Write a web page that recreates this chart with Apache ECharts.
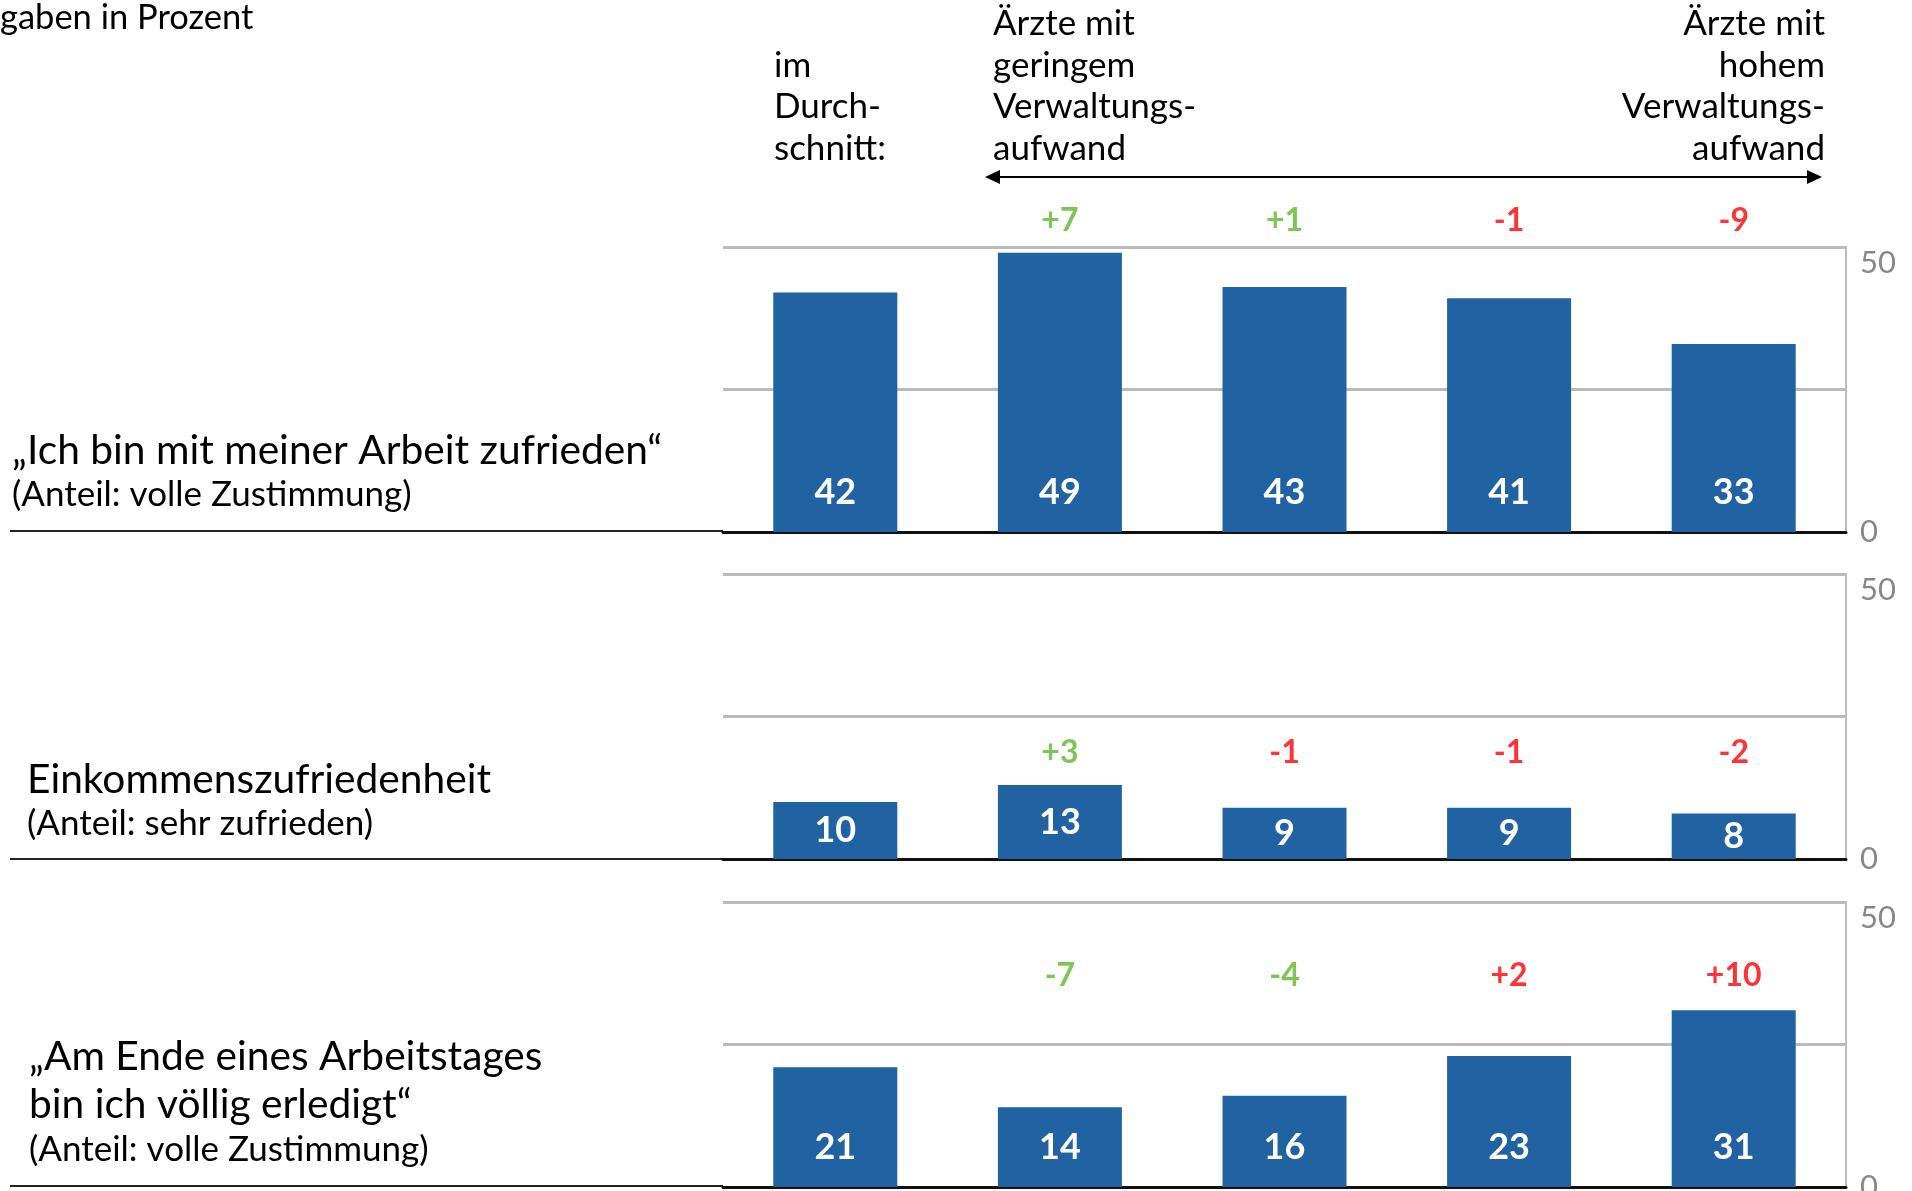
<!DOCTYPE html>
<html>
<head>
<meta charset="utf-8">
<title>Verwaltungsaufwand und Zufriedenheit</title>
<script src="https://cdn.jsdelivr.net/npm/echarts@6/dist/echarts.min.js"></script>
<style>
  html, body { margin: 0; padding: 0; background: #fff; }
  #chart { width: 1912px; height: 1191px; }
</style>
</head>
<body>
<div id="chart"></div>
<script>
// Gruppen (Spalten)
var kategorien = ['im Durchschnitt', 'geringer Aufwand', 'eher geringer Aufwand', 'eher hoher Aufwand', 'hoher Aufwand'];

// Werte je Panel
var arbeitZufrieden = [42, 49, 43, 41, 33];
var einkommen = [10, 13, 9, 9, 8];
var erledigt = [21, 14, 16, 23, 31];

// Abweichung zum Durchschnitt
var diffArbeit = [null, 7, 1, -1, -9];
var diffEinkommen = [null, 3, -1, -1, -2];
var diffErledigt = [null, -7, -4, 2, 10];

var yTicks = [0, 25, 50];

var FONT = 'Lato';
var BLUE = '#2062a2';
var GREEN = '#5cb82b';
var RED = '#ff0000';

// panel layout
var panels = [
  { werte: arbeitZufrieden, diff: diffArbeit, hoehBesser: true, top: 247, diffY: 54.7, labelPos: 'insideBottom' },
  { werte: einkommen, diff: diffEinkommen, hoehBesser: true, top: 574, diffY: 18.6, labelPos: 'inside' },
  { werte: erledigt, diff: diffErledigt, hoehBesser: false, top: 902, diffY: 37.1, labelPos: 'insideBottom' }
];
var PANEL_H = 285;

var myChart = echarts.init(document.getElementById('chart'));

var grids = [], xAxes = [], yAxes = [], series = [];
panels.forEach(function (p, i) {
  grids.push({ left: 723, right: 66, top: p.top, height: PANEL_H, outerBoundsMode: 'none' });
  xAxes.push({
    type: 'category', gridIndex: i, data: kategorien,
    axisLine: { lineStyle: { color: '#111', width: 3 } },
    axisTick: { show: false }, axisLabel: { show: false }
  });
  yAxes.push({
    type: 'value', gridIndex: i, position: 'right',
    min: yTicks[0], max: yTicks[2], interval: 25,
    axisLine: { show: true, lineStyle: { color: '#bbb', width: 2 } },
    axisTick: { show: false },
    splitLine: { lineStyle: { color: '#bbb', width: 3 } },
    axisLabel: {
      color: '#888', fontFamily: FONT, fontSize: 31, margin: 14,
      verticalAlignMaxLabel: 'top',
      formatter: function (v) { return v === 25 ? '' : String(v); }
    }
  });
  series.push({
    type: 'bar', xAxisIndex: i, yAxisIndex: i, data: p.werte,
    barWidth: 124,
    itemStyle: { color: BLUE },
    label: {
      show: true, position: p.labelPos, distance: 22,
      color: '#fff', fontFamily: FONT, fontWeight: 'bold', fontSize: 36
    },
    silent: true
  });
  series.push({
    type: 'scatter', xAxisIndex: i, yAxisIndex: i, symbolSize: 0, clip: false,
    data: p.diff.map(function (d, k) { return d === null ? null : [k, p.diffY, d]; }),
    label: {
      show: true, position: 'inside', fontFamily: FONT, fontWeight: 'bold', fontSize: 32,
      formatter: function (o) {
        var d = o.value[2];
        var gut = p.hoehBesser ? d > 0 : d < 0;
        return '{' + (gut ? 'g' : 'r') + '|' + (d > 0 ? '+' : '') + d + '}';
      },
      rich: {
        g: { color: GREEN, fontFamily: FONT, fontWeight: 'bold', fontSize: 32 },
        r: { color: RED, fontFamily: FONT, fontWeight: 'bold', fontSize: 32 }
      }
    },
    silent: true
  });
});

function txt(x, y, text, size, align) {
  return {
    type: 'text', x: x, y: y, silent: true,
    style: {
      text: text, fill: '#000', font: size + 'px ' + FONT,
      textAlign: align || 'left', textVerticalAlign: 'middle', lineHeight: 41.5
    }
  };
}
function sep(y) {
  return { type: 'line', silent: true, shape: { x1: 10, y1: y, x2: 723, y2: y }, style: { stroke: '#222', lineWidth: 2 } };
}

var graphics = [
  txt(0, 18, 'gaben in Prozent', 34.5),
  txt(774, 107, 'im\nDurch-\nschnitt:', 35),
  txt(993, 86, 'Ärzte mit\ngeringem\nVerwaltungs-\naufwand', 35),
  txt(1825, 86, 'Ärzte mit\nhohem\nVerwaltungs-\naufwand', 35, 'right'),
  { type: 'line', silent: true, shape: { x1: 995, y1: 177, x2: 1812, y2: 177 }, style: { stroke: '#000', lineWidth: 2 } },
  { type: 'polygon', silent: true, shape: { points: [[985, 177], [1000, 170], [1000, 184]] }, style: { fill: '#000' } },
  { type: 'polygon', silent: true, shape: { points: [[1822, 177], [1807, 170], [1807, 184]] }, style: { fill: '#000' } },
  txt(12, 451, '„Ich bin mit meiner Arbeit zufrieden“', 40.7),
  txt(12, 495, '(Anteil: volle Zustimmung)', 35),
  sep(531),
  txt(27, 780, 'Einkommenszufriedenheit', 40.7),
  txt(27, 824, '(Anteil: sehr zufrieden)', 35),
  sep(859),
  txt(29, 1057, '„Am Ende eines Arbeitstages', 40.7),
  txt(29, 1105, 'bin ich völlig erledigt“', 40.7),
  txt(29, 1150, '(Anteil: volle Zustimmung)', 35),
  sep(1186)
];

myChart.setOption({
  animation: false,
  grid: grids,
  xAxis: xAxes,
  yAxis: yAxes,
  series: series,
  graphic: graphics
});
</script>
</body>
</html>
